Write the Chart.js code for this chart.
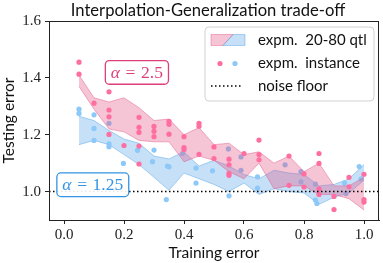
<!DOCTYPE html>
<html><head><meta charset="utf-8">
<script src="https://cdn.jsdelivr.net/npm/chart.js@4.4.0/dist/chart.umd.min.js"></script>
<style>html,body{margin:0;padding:0;background:#fff;overflow:hidden}#wrap{width:383px;height:263px;position:relative}</style>
</head><body><div id="wrap"><canvas id="c"></canvas></div>
<script>
// ---------- data ----------
const titleText = 'Interpolation-Generalization trade-off';
const xLabel = 'Training error';
const yLabel = 'Testing error';
const xTicks = [0.0, 0.2, 0.4, 0.6, 0.8, 1.0];
const yTicks = [1.0, 1.2, 1.4, 1.6];
const bandX  = [0.05,0.10,0.15,0.20,0.25,0.30,0.35,0.40,0.45,0.50,0.55,0.60,0.65,0.70,0.75,0.80,0.85,0.90,0.95,1.00];
const pinkQ20 = [1.37,1.29,1.22,1.21,1.18,1.175,1.175,1.105,1.125,1.11,1.07,1.045,1.10,1.01,1.02,1.02,0.99,0.99,0.975,0.935];
const pinkQ80 = [1.41,1.33,1.315,1.33,1.295,1.25,1.255,1.20,1.225,1.165,1.17,1.13,1.14,1.10,1.125,1.07,1.10,1.02,1.02,1.05];
const blueQ20 = [1.165,1.18,1.165,1.13,1.095,1.05,1.005,1.065,1.045,1.025,1.0,1.03,0.99,1.01,1.0,0.995,0.955,0.98,0.995,1.04];
const blueQ80 = [1.265,1.25,1.215,1.185,1.17,1.125,1.115,1.14,1.09,1.11,1.09,1.06,1.045,1.075,1.065,1.06,1.02,1.025,1.045,1.095];
const pinkPtsX = [0.05,0.05,0.10,0.15,0.15,0.15,0.15,0.20,0.25,0.25,0.25,0.25,0.25,0.30,0.30,0.30,0.35,0.35,0.35,0.40,0.40,0.40,0.45,0.45,0.45,0.50,0.50,0.55,0.55,0.55,0.55,0.60,0.65,0.65,0.65,0.75,0.75,0.80,0.80,0.85,0.85,0.85,0.85,0.90,0.90,0.95,0.95,1.00,1.00,1.00];
const pinkPtsY = [1.455,1.413,1.311,1.351,1.287,1.263,1.201,1.162,1.261,1.226,1.208,1.160,1.097,1.229,1.212,1.193,1.247,1.237,1.202,1.193,1.155,1.148,1.240,1.230,1.131,1.157,1.116,1.114,1.094,1.064,1.057,1.134,1.181,1.130,1.112,1.125,1.022,1.062,1.016,1.134,1.099,1.010,0.990,0.983,0.937,1.050,1.017,1.061,0.972,0.963];
const bluePtsX = [0.05,0.05,0.10,0.10,0.10,0.15,0.15,0.15,0.198,0.245,0.30,0.295,0.345,0.35,0.341,0.395,0.44,0.44,0.495,0.548,0.55,0.59,0.59,0.645,0.645,0.737,0.79,0.79,0.838,0.838,0.843,0.94,0.935,0.984,0.99];
const bluePtsY = [1.29,1.275,1.27,1.222,1.18,1.24,1.168,1.158,1.099,1.145,1.146,1.105,1.09,1.087,0.972,1.134,1.083,1.03,1.073,1.15,0.985,1.122,1.075,1.052,1.012,1.094,1.07,1.034,1.026,0.97,0.958,0.993,1.03,1.088,1.045];
const noiseFloor = 1.0;
const legendLabels = ['expm.  20-80 qtl', 'expm.  instance', 'noise floor'];
const alphaLabels = ['2.5', '1.25'];

// ---------- style ----------
const PINK_FILL = 'rgba(226,85,135,0.35)';
const PINK_EDGE = 'rgba(226,85,135,0.45)';
const PINK_PT = 'rgb(255,110,160)';
const PINK_TXT = 'rgb(222,62,122)';
const BLUE_FILL = 'rgba(80,160,230,0.33)';
const BLUE_EDGE = 'rgba(80,160,230,0.45)';
const BLUE_PT = 'rgb(140,200,248)';
const BLUE_TXT = 'rgb(52,148,228)';
const SANS = 'Lato';
const SERIF = '"Liberation Serif"';
const AX = '#222';

const pts = (xs, ys) => xs.map((x, i) => ({x, y: ys[i]}));

const annotations = [
  {text: alphaLabels[0], x: 0.243, y: 1.419, color: PINK_TXT},
  {text: alphaLabels[1], x: 0.096, y: 1.024, color: BLUE_TXT}
];

function roundRect(ctx, x, y, w, h, r) {
  ctx.beginPath();
  ctx.moveTo(x + r, y);
  ctx.lineTo(x + w - r, y); ctx.arcTo(x + w, y, x + w, y + r, r);
  ctx.lineTo(x + w, y + h - r); ctx.arcTo(x + w, y + h, x + w - r, y + h, r);
  ctx.lineTo(x + r, y + h); ctx.arcTo(x, y + h, x, y + h - r, r);
  ctx.lineTo(x, y + r); ctx.arcTo(x, y, x + r, y, r);
  ctx.closePath();
}

const decor = {
  id: 'decor',
  afterDatasetsDraw(chart) {
    const ctx = chart.ctx, a = chart.chartArea;
    const xs = chart.scales.x, ys = chart.scales.y;
    ctx.save();
    // frame
    ctx.strokeStyle = AX; ctx.lineWidth = 1;
    ctx.strokeRect(a.left + 0.5, a.top + 0.5, a.right - a.left - 1, a.bottom - a.top);
    // annotations
    const fs = 17.5;
    annotations.forEach(an => {
      const cx = xs.getPixelForValue(an.x), cy = ys.getPixelForValue(an.y);
      ctx.font = `italic ${fs}px ${SERIF}`; const wa = ctx.measureText('α').width;
      ctx.font = `${fs}px ${SERIF}`; const we = ctx.measureText('=').width; const wn = ctx.measureText(an.text).width;
      const gap = fs * 0.32;
      const tw = wa + gap + we + gap + wn;
      const bw = tw + 11, bh = fs * 1.35;
      ctx.fillStyle = 'rgba(255,255,255,0.9)';
      roundRect(ctx, cx - bw / 2, cy - bh / 2, bw, bh, 4); ctx.fill();
      ctx.strokeStyle = an.color; ctx.lineWidth = 1.3; ctx.stroke();
      ctx.fillStyle = an.color; ctx.textBaseline = 'middle'; ctx.textAlign = 'left';
      let x0 = cx - tw / 2; const ty = cy + 1;
      ctx.font = `italic ${fs}px ${SERIF}`; ctx.fillText('α', x0, ty); x0 += wa + gap;
      ctx.font = `${fs}px ${SERIF}`; ctx.fillText('=', x0, ty); x0 += we + gap;
      ctx.fillText(an.text, x0, ty);
    });
    // legend
    const lx = a.right - 174, ly = a.top + 6, lw = 169, lh = 74;
    ctx.fillStyle = 'rgba(255,255,255,0.85)';
    roundRect(ctx, lx, ly, lw, lh, 4); ctx.fill();
    ctx.strokeStyle = '#d2d2d2'; ctx.lineWidth = 1; ctx.stroke();
    const px = lx + 6, pw = 34, ph = 11;
    const r1 = ly + 13, r2 = ly + 36.5, r3 = ly + 59;
    const py = r1 - ph / 2;
    ctx.beginPath();
    ctx.moveTo(px, py); ctx.lineTo(px + pw * 0.65, py); ctx.lineTo(px + pw * 0.35, py + ph); ctx.lineTo(px, py + ph); ctx.closePath();
    ctx.fillStyle = PINK_FILL; ctx.fill(); ctx.strokeStyle = PINK_EDGE; ctx.stroke();
    ctx.beginPath();
    ctx.moveTo(px + pw * 0.65, py); ctx.lineTo(px + pw, py); ctx.lineTo(px + pw, py + ph); ctx.lineTo(px + pw * 0.35, py + ph); ctx.closePath();
    ctx.fillStyle = BLUE_FILL; ctx.fill(); ctx.strokeStyle = BLUE_EDGE; ctx.stroke();
    ctx.beginPath(); ctx.arc(px + 9, r2, 2.6, 0, Math.PI * 2); ctx.fillStyle = PINK_PT; ctx.fill();
    ctx.beginPath(); ctx.arc(px + 24, r2, 2.6, 0, Math.PI * 2); ctx.fillStyle = BLUE_PT; ctx.fill();
    ctx.beginPath(); ctx.setLineDash([1.5, 2.5]); ctx.lineWidth = 1.5; ctx.strokeStyle = '#000';
    ctx.moveTo(px, r3); ctx.lineTo(px + 31, r3); ctx.stroke(); ctx.setLineDash([]);
    ctx.fillStyle = '#111'; ctx.font = `15px ${SANS}`; ctx.textAlign = 'left'; ctx.textBaseline = 'middle';
    ctx.fillText(legendLabels[0], lx + 53, r1);
    ctx.fillText(legendLabels[1], lx + 53, r2);
    ctx.fillText(legendLabels[2], lx + 53, r3);
    // title
    ctx.font = `16.6px ${SANS}`; ctx.textAlign = 'center'; ctx.textBaseline = 'alphabetic';
    ctx.fillText(titleText, (a.left + a.right) / 2 - 6, 15.5);
    ctx.restore();
  }
};

new Chart(document.getElementById('c'), {
  type: 'scatter',
  data: {
    datasets: [
      {type: 'line', data: [{x: -0.05, y: noiseFloor}, {x: 1.05, y: noiseFloor}], borderColor: '#000', borderWidth: 1.5, borderDash: [1.5, 2.5], pointRadius: 0, fill: false, order: 0},
      {type: 'scatter', data: pts(pinkPtsX, pinkPtsY), backgroundColor: PINK_PT, borderWidth: 0, pointRadius: 2.6, order: 1},
      {type: 'line', data: pts(bandX, pinkQ20), borderColor: PINK_EDGE, borderWidth: 1, pointRadius: 0, fill: false, tension: 0, order: 2},
      {type: 'line', data: pts(bandX, pinkQ80), borderColor: PINK_EDGE, borderWidth: 1, pointRadius: 0, fill: 2, backgroundColor: PINK_FILL, tension: 0, order: 2},
      {type: 'scatter', data: pts(bluePtsX, bluePtsY), backgroundColor: BLUE_PT, borderWidth: 0, pointRadius: 2.6, order: 3},
      {type: 'line', data: pts(bandX, blueQ20), borderColor: BLUE_EDGE, borderWidth: 1, pointRadius: 0, fill: false, tension: 0, order: 4},
      {type: 'line', data: pts(bandX, blueQ80), borderColor: BLUE_EDGE, borderWidth: 1, pointRadius: 0, fill: 5, backgroundColor: BLUE_FILL, tension: 0, order: 4}
    ]
  },
  options: {
    responsive: true, maintainAspectRatio: false, animation: false,
    layout: {padding: {top: 21, right: 2, left: 0, bottom: 0}},
    plugins: {legend: {display: false}, tooltip: {enabled: false}, title: {display: false}},
    scales: {
      x: {
        type: 'linear', min: -0.05, max: 1.05,
        afterBuildTicks: s => { s.ticks = xTicks.map(v => ({value: v})); },
        afterFit: s => { s.height = 43; },
        ticks: {callback: v => Number(v).toFixed(1), font: {family: 'Liberation Serif', size: 15}, color: AX, padding: 2, maxRotation: 0, autoSkip: false},
        grid: {drawOnChartArea: false, drawTicks: true, tickLength: 4, color: AX},
        border: {display: true, color: AX, width: 1},
        title: {display: true, text: xLabel, font: {family: SANS, size: 15.5}, color: '#111', padding: {top: 0, bottom: 1}}
      },
      y: {
        type: 'linear', min: 0.9, max: 1.6,
        afterBuildTicks: s => { s.ticks = yTicks.map(v => ({value: v})); },
        afterFit: s => { s.width = 49; },
        ticks: {callback: v => Number(v).toFixed(1), font: {family: 'Liberation Serif', size: 15}, color: AX, padding: 4, autoSkip: false},
        grid: {drawOnChartArea: false, drawTicks: true, tickLength: 4, color: AX},
        border: {display: true, color: AX, width: 1},
        title: {display: true, text: yLabel, font: {family: SANS, size: 15.5}, color: '#111', padding: {top: 0, bottom: 0}}
      }
    }
  },
  plugins: [decor]
});
</script></body></html>
